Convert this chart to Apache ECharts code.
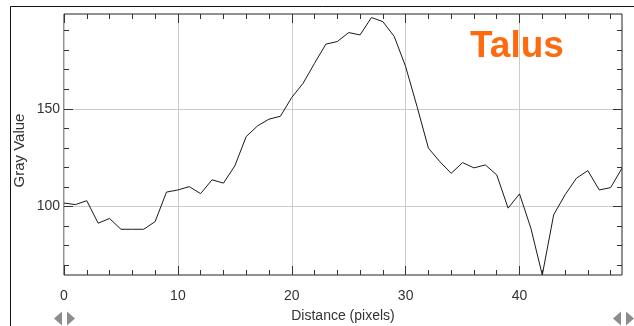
<!DOCTYPE html>
<html>
<head>
<meta charset="utf-8">
<script src="https://cdn.jsdelivr.net/npm/echarts@6/dist/echarts.min.js"></script>
<style>
  html, body { margin: 0; padding: 0; background: #fff; }
  #chart { width: 634px; height: 326px; }
</style>
</head>
<body>
<div id="chart"></div>
<script>
// ---- data ----
const distance = [0,1,2,3,4,5,6,7,8,9,10,11,12,13,14,15,16,17,18,19,20,21,22,23,24,25,26,27,28,29,30,31,32,33,34,35,36,37,38,39,40,41,42,43,44,45,46,47,48,49];
const grayValue = [101.8,101.0,103.0,91.5,93.9,88.4,88.4,88.4,92.3,107.4,108.5,110.2,106.6,113.7,112.0,120.8,135.8,141.3,144.7,146.2,155.8,163.1,173.3,183.1,184.4,189.0,187.8,196.7,194.6,187.0,171.6,151.2,129.9,123.0,117.0,122.5,119.8,121.3,116.2,99.2,106.5,88.9,65.0,95.8,106.0,114.5,118.4,108.5,109.7,119.6];
const xMajorTicks = [0,10,20,30,40];
const xMinorTicks = [2,4,6,8,12,14,16,18,22,24,26,28,32,34,36,38,42,44,46,48];
const yMajorTicks = [100,150];
const yMinorTicks = [70,80,90,110,120,130,140,160,170,180,190];
const xRange = [0,49];
const yRange = [65,198.5];
const xTitle = 'Distance (pixels)';
const yTitle = 'Gray Value';
const chartLabel = 'Talus';

const FONT = '"Liberation Sans", Arial, sans-serif';
const chart = echarts.init(document.getElementById('chart'), null, {renderer: 'canvas'});

function xAxisDef(pos, ticks, len, withLabels, withSplit, name) {
  return {
    type: 'value', position: pos, min: xRange[0], max: xRange[1],
    axisLine: {show: false, onZero: false},
    axisTick: {show: true, inside: true, length: len, customValues: ticks, lineStyle: {color: '#333', width: 1}},
    axisLabel: withLabels ? {show: true, customValues: ticks, margin: 14, color: '#333', fontSize: 14, fontFamily: FONT} : {show: false},
    splitLine: {show: withSplit, lineStyle: {color: '#cccccc', width: 1}},
    minorTick: {show: false}, minorSplitLine: {show: false},
    name: name || '', nameLocation: 'middle', nameGap: 34,
    nameTextStyle: {color: '#333', fontSize: 14, fontFamily: FONT}
  };
}
function yAxisDef(pos, ticks, len, withLabels, withSplit) {
  return {
    type: 'value', position: pos, min: yRange[0], max: yRange[1],
    axisLine: {show: false, onZero: false},
    axisTick: {show: true, inside: true, length: len, customValues: ticks, lineStyle: {color: '#333', width: 1}},
    axisLabel: withLabels ? {show: true, customValues: ticks, margin: 4, color: '#333', fontSize: 14, fontFamily: FONT} : {show: false},
    splitLine: {show: withSplit, lineStyle: {color: '#cccccc', width: 1}},
    minorTick: {show: false}, minorSplitLine: {show: false}
  };
}

const option = {
  animation: false,
  backgroundColor: '#fff',
  grid: {left: 64, top: 14, right: 12, bottom: 51, show: true, borderColor: '#222', borderWidth: 1, backgroundColor: '#fff', containLabel: false, outerBoundsMode: 'none'},
  xAxis: [
    xAxisDef('bottom', xMajorTicks, 9, true, true, xTitle),
    xAxisDef('bottom', xMinorTicks, 5, false, false),
    xAxisDef('top', xMajorTicks, 9, false, false),
    xAxisDef('top', xMinorTicks, 5, false, false)
  ],
  yAxis: [
    yAxisDef('left', yMajorTicks, 9, true, true),
    yAxisDef('left', yMinorTicks, 5, false, false),
    yAxisDef('right', yMajorTicks, 9, false, false),
    yAxisDef('right', yMinorTicks, 5, false, false)
  ],
  series: [{
    type: 'line',
    xAxisIndex: 0, yAxisIndex: 0,
    data: distance.map((d, i) => [d, grayValue[i]]),
    showSymbol: false, symbol: 'none',
    lineStyle: {color: '#1a1a1a', width: 1},
    clip: false
  }],
  graphic: [
    {type: 'line', shape: {x1: 10.5, y1: 6.5, x2: 634, y2: 6.5}, style: {stroke: '#111', lineWidth: 1}, silent: true},
    {type: 'line', shape: {x1: 10.5, y1: 6.5, x2: 10.5, y2: 326}, style: {stroke: '#111', lineWidth: 1}, silent: true},
    {type: 'text', x: 19.5, y: 150.5, rotation: Math.PI / 2, style: {text: yTitle, fill: '#333', font: '15px ' + FONT, align: 'center', verticalAlign: 'middle'}},
    {type: 'text', left: 470, top: 28, style: {text: chartLabel, fill: '#ff6a0e', font: 'bold 37px ' + FONT}, z: 10},
    {type: 'polygon', shape: {points: [[54,318.5],[62,311.5],[62,325.5]]}, style: {fill: '#8c8c8c'}},
    {type: 'polygon', shape: {points: [[67,311.5],[75,318.5],[67,325.5]]}, style: {fill: '#8c8c8c'}},
    {type: 'polygon', shape: {points: [[613,318.5],[621,311.5],[621,325.5]]}, style: {fill: '#8c8c8c'}},
    {type: 'polygon', shape: {points: [[626,311.5],[634,318.5],[626,325.5]]}, style: {fill: '#8c8c8c'}}
  ]
};
chart.setOption(option);
</script>
</body>
</html>
